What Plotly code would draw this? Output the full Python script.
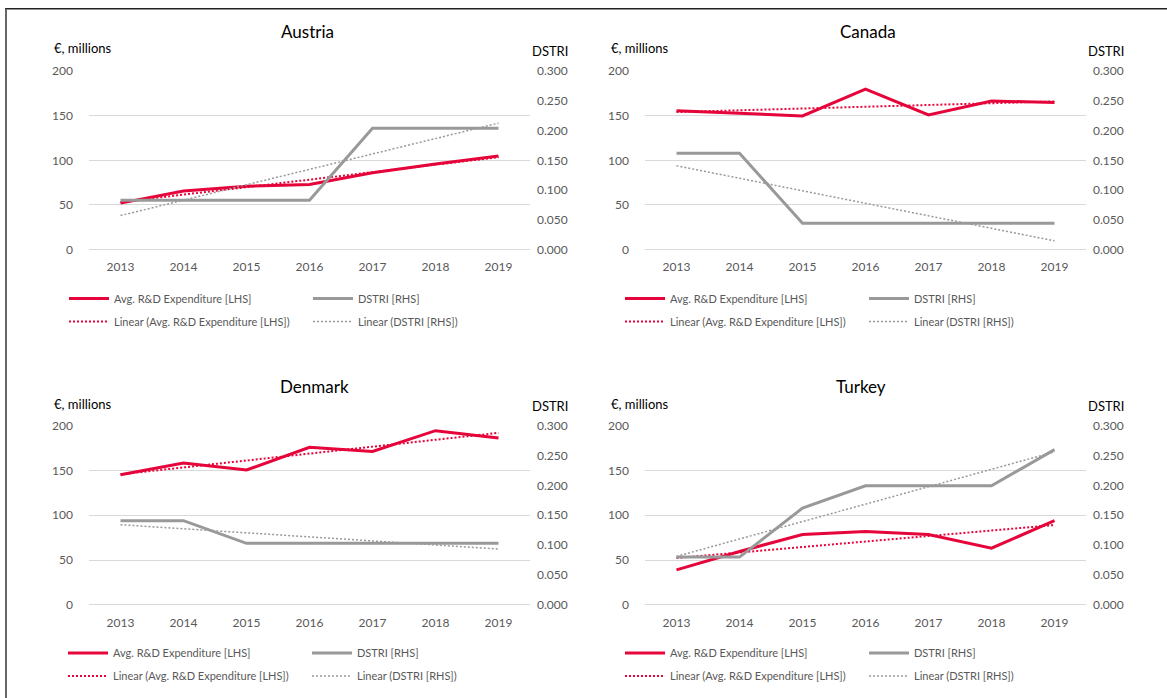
import numpy as np
import plotly.graph_objects as go

# Observed capture: the page is photographed 714px tall with the figure starting
# 8px down, then fitted to 698px.  Positions below are given in final picture
# pixels and converted to figure coordinates.
PAGE_W, PAGE_H = 1167, 698
CAP_H, TOP = 714, 8
SY = CAP_H / PAGE_H
W, H = PAGE_W, CAP_H - TOP

years = ["2013", "2014", "2015", "2016", "2017", "2018", "2019"]
countries = ["Austria", "Canada", "Denmark", "Turkey"]

austria_rd = [52, 65.5, 71, 73, 86, 96, 105]
austria_dstri = [0.083, 0.083, 0.083, 0.083, 0.204, 0.204, 0.204]
canada_rd = [155.8, 153, 149.8, 180, 151, 166.7, 164.8]
canada_dstri = [0.162, 0.162, 0.044, 0.044, 0.044, 0.044, 0.044]
denmark_rd = [145.3, 158.3, 150.5, 175.8, 171.3, 194.4, 186.3]
denmark_dstri = [0.141, 0.141, 0.103, 0.103, 0.103, 0.103, 0.103]
turkey_rd = [39.1, 59.6, 78.6, 81.9, 78.6, 63.3, 93.9]
turkey_dstri = [0.080, 0.080, 0.162, 0.1995, 0.1995, 0.1995, 0.260]

rd_series = [austria_rd, canada_rd, denmark_rd, turkey_rd]
dstri_series = [austria_dstri, canada_dstri, denmark_dstri, turkey_dstri]

lhs_ticks = [0, 50, 100, 150, 200]
rhs_ticks = [0.0, 0.05, 0.10, 0.15, 0.20, 0.25, 0.30]

RED = "#E5053A"
GREY = "#999999"
GRID = "#D9D9D9"
TICK = "#595959"
FONT = "Lato"

# panel geometry in picture pixels: (left, right, top, bottom)
panels = [
    (89, 530, 71, 249),
    (645, 1086, 71, 249),
    (89, 530, 425, 604),
    (645, 1086, 425, 604),
]
title_pos = [(307, 31), (868, 31), (314, 386), (861, 386)]
lhs_title_pos = [(52, 48), (609, 48), (52, 403), (609, 403)]
rhs_title_pos = [(570, 51), (1126, 51), (570, 405), (1126, 405)]
# legend: first-column sample start x, row1 y, row2 y
legend_pos = [(69, 298, 321), (625, 298, 321), (68, 652, 675), (625, 652, 675)]
LEG_ITEM = 40
LEG_COL_SPACING = 245


def px(x):
    return x / W


def py(y):
    return 1 - (y * SY - TOP) / H


def trend(vals):
    idx = np.arange(len(vals))
    k, b = np.polyfit(idx, vals, 1)
    return list(k * idx + b)


fig = go.Figure()
layout = dict(
    width=W, height=H,
    margin=dict(l=0, r=0, t=0, b=0),
    paper_bgcolor="white", plot_bgcolor="white",
    font=dict(family=FONT, color=TICK, size=12),
    annotations=[], shapes=[],
)

for i, name in enumerate(countries):
    l, r, t, b = panels[i]
    xa = f"x{i+1}" if i else "x"
    ya = f"y{2*i+1}" if i else "y"
    yb = f"y{2*i+2}"
    xkey = f"xaxis{i+1}" if i else "xaxis"
    yakey = f"yaxis{2*i+1}" if i else "yaxis"
    ybkey = f"yaxis{2*i+2}"
    lg_a = "legend" if i == 0 else f"legend{2*i+1}"
    lg_b = f"legend{2*i+2}"

    layout[xkey] = dict(domain=[px(l), px(r)], anchor=ya, type="category",
                        range=[-0.5, 6.5], showgrid=False, showline=False,
                        ticks="", tickfont=dict(size=12, color=TICK),
                        ticklabelstandoff=9, fixedrange=True)
    layout[yakey] = dict(domain=[py(b), py(t)], anchor=xa, range=[0, 200],
                         tickvals=lhs_ticks, showgrid=True, gridcolor=GRID,
                         gridwidth=1, zeroline=True, zerolinecolor=GRID,
                         zerolinewidth=1, showline=False, ticks="",
                         tickfont=dict(size=12, color=TICK),
                         ticklabelstandoff=15)
    layout[ybkey] = dict(overlaying=ya, anchor=xa, side="right",
                         range=[0, 0.3], tickvals=rhs_ticks, tickformat=".3f",
                         showgrid=False, zeroline=False, showline=False,
                         ticks="", tickfont=dict(size=12, color=TICK),
                         ticklabelstandoff=6)

    rd = rd_series[i]
    ds = dstri_series[i]
    fig.add_trace(go.Scatter(x=years, y=rd, mode="lines", name="Avg. R&D Expenditure [LHS]",
                             line=dict(color=RED, width=3), xaxis=xa, yaxis=ya, legend=lg_a))
    fig.add_trace(go.Scatter(x=years, y=ds, mode="lines", name="DSTRI [RHS]",
                             line=dict(color=GREY, width=3), xaxis=xa, yaxis=yb, legend=lg_a))
    fig.add_trace(go.Scatter(x=years, y=trend(rd), mode="lines",
                             name="Linear (Avg. R&D Expenditure [LHS])",
                             line=dict(color=RED, width=2, dash="2px,2px"),
                             xaxis=xa, yaxis=ya, legend=lg_b))
    fig.add_trace(go.Scatter(x=years, y=trend(ds), mode="lines",
                             name="Linear (DSTRI [RHS])",
                             line=dict(color=GREY, width=1.5, dash="2px,2px"),
                             xaxis=xa, yaxis=yb, legend=lg_b))

    c1, r1, r2 = legend_pos[i]
    for key, ry in ((lg_a, r1), (lg_b, r2)):
        layout[key] = dict(x=px(c1 - 5), y=py(ry), xanchor="left", yanchor="middle",
                           orientation="h", entrywidthmode="pixels",
                           entrywidth=LEG_COL_SPACING - LEG_ITEM - 16,
                           bgcolor="rgba(0,0,0,0)", font=dict(size=11, color=TICK, family=FONT),
                           itemwidth=LEG_ITEM, traceorder="normal")

    tx, ty = title_pos[i]
    layout["annotations"].append(dict(text=name, x=px(tx), y=py(ty), xref="paper", yref="paper",
                                      showarrow=False, xanchor="center", yanchor="middle",
                                      font=dict(size=17, color="#000000", family=FONT)))
    lx, ly = lhs_title_pos[i]
    layout["annotations"].append(dict(text="€, millions", x=px(lx), y=py(ly), xref="paper",
                                      yref="paper", showarrow=False, xanchor="left",
                                      yanchor="middle",
                                      font=dict(size=13, color="#000000", family=FONT)))
    rx, ry_ = rhs_title_pos[i]
    layout["annotations"].append(dict(text="DSTRI", x=px(rx), y=py(ry_), xref="paper",
                                      yref="paper", showarrow=False, xanchor="right",
                                      yanchor="middle",
                                      font=dict(size=13, color="#000000", family=FONT)))

# outer frame (top and left edges visible)
frame_top = 1 - 0.8 / H
layout["shapes"].append(dict(type="line", xref="paper", yref="paper", x0=px(5), x1=1,
                             y0=frame_top, y1=frame_top, line=dict(color="#222222", width=1.5)))
layout["shapes"].append(dict(type="line", xref="paper", yref="paper", x0=px(6), x1=px(6),
                             y0=frame_top, y1=0, line=dict(color="#666666", width=2)))

fig.update_layout(**layout)
fig.write_html("out.html", config={"displayModeBar": False},
               post_script="document.body.style.margin='0';")
